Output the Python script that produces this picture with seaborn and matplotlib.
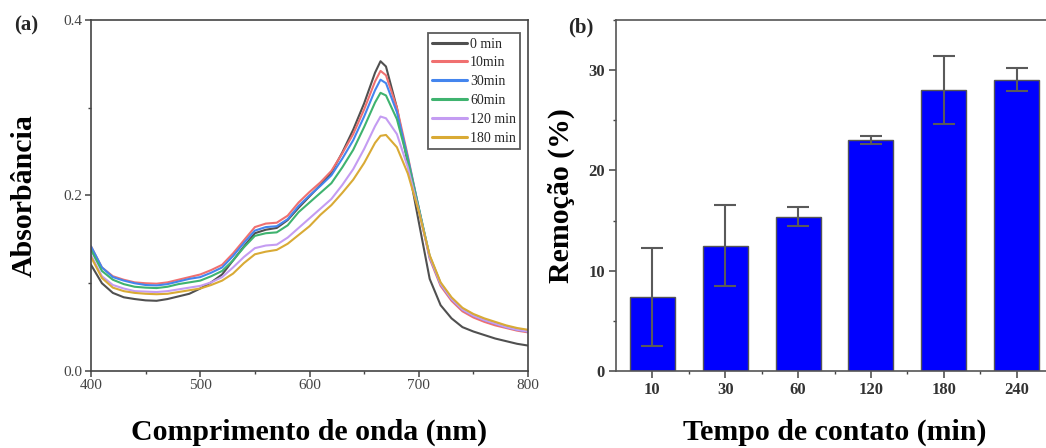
import matplotlib
matplotlib.use("Agg")
import matplotlib.pyplot as plt
import numpy as np
import pandas as pd
import seaborn as sns
from matplotlib.ticker import MultipleLocator, FixedLocator

# ---------------- data ----------------
wavelength = [400, 410, 420, 430, 440, 450, 460, 470, 480, 490, 500, 510, 520, 530,
              540, 550, 560, 570, 580, 590, 600, 610, 620, 630, 640, 650, 660, 665,
              670, 680, 690, 700, 710, 720, 730, 740, 750, 760, 770, 780, 790, 800]

abs_0min = [0.121, 0.100, 0.089, 0.084, 0.082, 0.0805, 0.080, 0.082, 0.085, 0.088, 0.094,
            0.101, 0.110, 0.126, 0.142, 0.157, 0.161, 0.163, 0.172, 0.186, 0.199, 0.212,
            0.226, 0.249, 0.275, 0.305, 0.340, 0.353, 0.347, 0.300, 0.236, 0.170, 0.105,
            0.075, 0.060, 0.050, 0.045, 0.041, 0.037, 0.034, 0.031, 0.029]
abs_10min = [0.142, 0.118, 0.108, 0.104, 0.101, 0.100, 0.0995, 0.101, 0.104, 0.107, 0.110,
             0.115, 0.121, 0.134, 0.149, 0.164, 0.168, 0.169, 0.177, 0.192, 0.204, 0.215,
             0.228, 0.248, 0.270, 0.298, 0.330, 0.342, 0.337, 0.300, 0.245, 0.185, 0.128,
             0.097, 0.080, 0.068, 0.061, 0.056, 0.052, 0.049, 0.046, 0.044]
abs_30min = [0.142, 0.118, 0.107, 0.103, 0.100, 0.098, 0.0975, 0.099, 0.102, 0.105, 0.107,
             0.112, 0.118, 0.131, 0.146, 0.160, 0.164, 0.165, 0.173, 0.188, 0.200, 0.211,
             0.223, 0.242, 0.263, 0.290, 0.320, 0.332, 0.328, 0.295, 0.243, 0.186, 0.130,
             0.099, 0.082, 0.070, 0.063, 0.058, 0.054, 0.050, 0.047, 0.045]
abs_60min = [0.138, 0.114, 0.104, 0.099, 0.096, 0.095, 0.0945, 0.096, 0.099, 0.101, 0.103,
             0.108, 0.114, 0.126, 0.141, 0.154, 0.157, 0.158, 0.166, 0.181, 0.192, 0.203,
             0.214, 0.232, 0.252, 0.278, 0.306, 0.317, 0.314, 0.287, 0.240, 0.186, 0.131,
             0.100, 0.083, 0.071, 0.064, 0.059, 0.055, 0.051, 0.048, 0.046]
abs_120min = [0.132, 0.108, 0.098, 0.094, 0.091, 0.0905, 0.090, 0.091, 0.093, 0.095, 0.097,
              0.101, 0.107, 0.118, 0.130, 0.140, 0.143, 0.144, 0.152, 0.163, 0.174, 0.185,
              0.196, 0.212, 0.230, 0.253, 0.279, 0.290, 0.288, 0.270, 0.232, 0.183, 0.130,
              0.099, 0.082, 0.070, 0.063, 0.058, 0.054, 0.050, 0.047, 0.045]
abs_180min = [0.130, 0.106, 0.095, 0.091, 0.089, 0.088, 0.0875, 0.088, 0.090, 0.092, 0.094,
              0.098, 0.103, 0.111, 0.123, 0.133, 0.136, 0.138, 0.145, 0.155, 0.165, 0.178,
              0.189, 0.203, 0.218, 0.237, 0.260, 0.268, 0.269, 0.255, 0.225, 0.182, 0.132,
              0.101, 0.084, 0.072, 0.065, 0.060, 0.056, 0.052, 0.049, 0.047]

series_labels = ["0 min", "10min", "30min", "60min", "120 min", "180 min"]
series_values = [abs_0min, abs_10min, abs_30min, abs_60min, abs_120min, abs_180min]
series_colors = ["#505050", "#f07070", "#4485ee", "#3fb36f", "#c49cf2", "#d9aa35"]

contact_time = ["10", "30", "60", "120", "180", "240"]
removal = [7.4, 12.5, 15.4, 23.0, 28.0, 29.05]
removal_err = [4.9, 4.05, 0.95, 0.4, 3.4, 1.15]

x_ticks_a = [400, 500, 600, 700, 800]
y_ticks_a = [0.0, 0.2, 0.4]
y_ticks_b = [0, 10, 20, 30]

# ---------------- style ----------------
sns.set_theme(style="ticks")
plt.rcParams["font.family"] = ["Liberation Serif", "DejaVu Serif"]
plt.rcParams["axes.linewidth"] = 1.2

W, H = 1046, 448
fig = plt.figure(figsize=(W / 100, H / 100), dpi=100)
ax1 = fig.add_axes([91 / W, 77 / H, 437 / W, 351 / H])
ax2 = fig.add_axes([616 / W, 77 / H, 437 / W, 351 / H])

# ---------------- panel (a) ----------------
rows = []
for lab, vals in zip(series_labels, series_values):
    for wl, v in zip(wavelength, vals):
        rows.append({"wl": wl, "abs": v, "series": lab})
df = pd.DataFrame(rows)

sns.lineplot(data=df, x="wl", y="abs", hue="series", hue_order=series_labels,
             palette=series_colors, estimator=None, linewidth=1.5, ax=ax1)

ax1.set_xlim(400, 800)
ax1.set_ylim(0, 0.4)
ax1.set_xticks(x_ticks_a)
ax1.set_xticklabels([str(t) for t in x_ticks_a])
ax1.set_yticks(y_ticks_a)
ax1.set_yticklabels([f"{t:.1f}" for t in y_ticks_a])
ax1.xaxis.set_minor_locator(MultipleLocator(50))
ax1.yaxis.set_minor_locator(MultipleLocator(0.1))
ax1.tick_params(which="major", direction="out", length=4, width=1.1, colors="#444444",
                labelsize=11, pad=2)
ax1.tick_params(which="minor", direction="out", length=2.5, width=1.0, colors="#444444")
for sp in ax1.spines.values():
    sp.set_color("#444444")
    sp.set_linewidth(1.2)

ax1.set_xlabel("Comprimento de onda (nm)", fontsize=21.5, fontweight="bold", color="black",
               va="center")
ax1.set_ylabel("Absorbância", fontsize=21.5, fontweight="bold", color="black",
               va="center")
ax1.xaxis.set_label_coords(0.5, -0.175)
ax1.yaxis.set_label_coords(-0.153, 0.5)

leg = ax1.legend(loc="upper right", bbox_to_anchor=(0.982, 0.962), borderaxespad=0,
                 fancybox=False, frameon=True, edgecolor="#333333", fontsize=10,
                 handlelength=2.5, handletextpad=0.2, labelspacing=0.42,
                 borderpad=0.3, title=None)
leg.get_frame().set_linewidth(1.3)
for line in leg.get_lines():
    line.set_linewidth(2.2)

fig.text(26 / W, 1 - 25 / H, "(a)", fontsize=15, fontweight="bold", ha="center", va="center")

# ---------------- panel (b) ----------------
df_b = pd.DataFrame({"time": contact_time, "removal": removal})
sns.barplot(data=df_b, x="time", y="removal", order=contact_time, color="#0000ff",
            saturation=1, width=0.62, edgecolor="#555555", linewidth=1.0,
            errorbar=None, ax=ax2)
ax2.errorbar(np.arange(len(contact_time)), removal, yerr=removal_err, fmt="none",
             ecolor="#5a5a5a", elinewidth=1.5, capsize=8, capthick=1.5, zorder=5)

ax2.set_xlim(-0.5, 5.5)
ax2.set_ylim(0, 35)
ax2.set_yticks(y_ticks_b)
ax2.set_yticklabels([str(t) for t in y_ticks_b])
ax2.yaxis.set_minor_locator(MultipleLocator(5))
ax2.xaxis.set_minor_locator(FixedLocator(np.arange(0.5, 6, 1.0)))
ax2.tick_params(which="major", direction="out", length=5, width=1.1, colors="#444444",
                labelsize=12, pad=3)
ax2.tick_params(which="minor", direction="out", length=2.5, width=1.0, colors="#444444")
for lab in ax2.get_xticklabels() + ax2.get_yticklabels():
    lab.set_fontweight("bold")
    lab.set_color("#333333")
for sp in ax2.spines.values():
    sp.set_color("#555555")
    sp.set_linewidth(1.2)

ax2.set_xlabel("Tempo de contato (min)", fontsize=21.5, fontweight="bold", color="black",
               va="center")
ax2.set_ylabel("Remoção (%)", fontsize=21.5, fontweight="bold", color="black",
               va="center")
ax2.xaxis.set_label_coords(0.501, -0.175)
ax2.yaxis.set_label_coords(-0.124, 0.5)

fig.text(581 / W, 1 - 27 / H, "(b)", fontsize=15, fontweight="bold", ha="center", va="center")

fig.savefig("out.png", dpi=100)
